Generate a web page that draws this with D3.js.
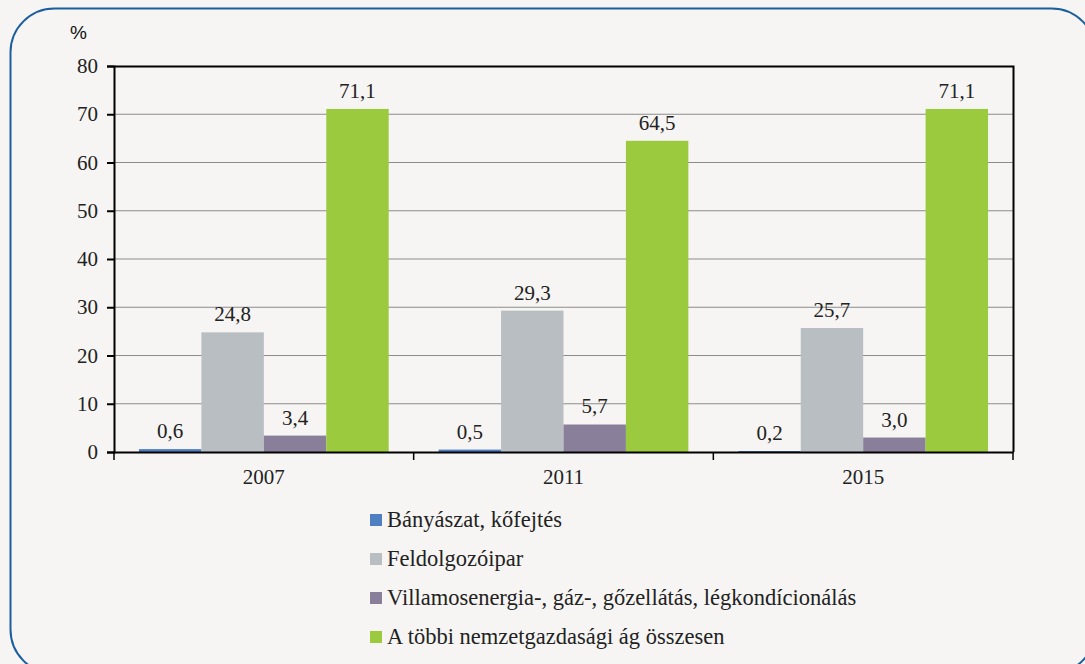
<!DOCTYPE html>
<html>
<head>
<meta charset="utf-8">
<script src="https://cdn.jsdelivr.net/npm/d3@7"></script>
<style>
  body { margin: 0; background: #f6f5f3; }
  svg { display: block; }
</style>
</head>
<body>
<div class="container"></div>
<script>
// data
var years = ["2007", "2011", "2015"];
var series = ["Bányászat, kőfejtés", "Feldolgozóipar",
              "Villamosenergia-, gáz-, gőzellátás, légkondícionálás",
              "A többi nemzetgazdasági ág összesen"];
var colors = ["#4f7fc0", "#b9bec3", "#8a7f9a", "#9bca3e"];
var values = [
  [0.6, 24.8, 3.4, 71.1],
  [0.5, 29.3, 5.7, 64.5],
  [0.2, 25.7, 3.0, 71.1]
];
var yTicks = [0, 10, 20, 30, 40, 50, 60, 70, 80];

var W = 1085, H = 664;
var margin = {top: 66, right: 72, bottom: 212, left: 114},
    width = W - margin.left - margin.right,
    height = H - margin.top - margin.bottom;

var fmt = function(v) { return v.toFixed(1).replace(".", ","); };

// serif text helper
var serif = function(sel, size) {
  sel.style("font-family", function() { return "'Times New Roman'"; })
     .style("font-size", function() { return size + "px"; })
     .attr("fill", "#222");
};

var svg = d3.select("div.container").append("svg")
    .attr("width", W)
    .attr("height", H);

// rounded frame
svg.append("rect")
    .attr("x", 10.5).attr("y", 8.5)
    .attr("width", 1085).attr("height", 665)
    .attr("rx", 44).attr("ry", 44)
    .attr("fill", "#f6f5f3")
    .attr("stroke", "#1c5f9f")
    .attr("stroke-width", 2);

var g = svg.append("g")
    .attr("transform", "translate(" + margin.left + "," + margin.top + ")");

var x0 = d3.scaleBand().domain(years).range([0, width])
    .paddingInner(1 / 6).paddingOuter(1 / 12);
var x1 = d3.scaleBand().domain(d3.range(series.length)).range([0, x0.bandwidth()]);
var y = d3.scaleLinear().domain([0, 80]).range([height, 0]);

// gridlines
g.selectAll("line.grid")
    .data(yTicks.slice(1, -1))
    .enter().append("line")
    .attr("x1", 0).attr("x2", width)
    .attr("y1", function(d) { return y(d); })
    .attr("y2", function(d) { return y(d); })
    .attr("stroke", "#8c8c8c")
    .attr("stroke-width", 1);

// bars
var grp = g.selectAll("g.year")
    .data(values)
    .enter().append("g")
    .attr("transform", function(d, i) { return "translate(" + x0(years[i]) + ",0)"; });

grp.selectAll("rect")
    .data(function(d) { return d; })
    .enter().append("rect")
    .attr("x", function(d, i) { return x1(i); })
    .attr("y", function(d) { return y(d); })
    .attr("width", x1.bandwidth())
    .attr("height", function(d) { return height - y(d); })
    .attr("fill", function(d, i) { return colors[i]; });

grp.selectAll("text")
    .data(function(d) { return d; })
    .enter().append("text")
    .attr("x", function(d, i) { return x1(i) + x1.bandwidth() / 2; })
    .attr("y", function(d) { return y(d) - 11; })
    .attr("text-anchor", "middle")
    .text(fmt)
    .call(serif, 21);

// frame top/right
g.append("path")
    .attr("d", "M0.5,0.5H" + (width + 0.5) + "V" + height)
    .attr("fill", "none").attr("stroke", "#000").attr("stroke-width", 2);

// y axis
var yAxis = g.append("g")
    .call(d3.axisLeft(y).tickValues(yTicks).tickSize(7).tickPadding(9))
    .attr("font-family", null);
yAxis.select(".domain").attr("stroke-width", 2);
yAxis.selectAll(".tick line").attr("stroke-width", 2);
yAxis.selectAll("text").call(serif, 21);

// x axis
var xAxis = g.append("g")
    .attr("transform", "translate(0," + height + ")")
    .call(d3.axisBottom(x0).tickSize(0).tickPadding(17))
    .attr("font-family", null);
xAxis.select(".domain").attr("stroke-width", 2);
xAxis.selectAll("text").call(serif, 21);
// tick marks between groups
g.selectAll("line.xt")
    .data(d3.range(years.length + 1))
    .enter().append("line")
    .attr("x1", function(d) { return d * width / years.length; })
    .attr("x2", function(d) { return d * width / years.length; })
    .attr("y1", height).attr("y2", height + 8)
    .attr("stroke", "#000").attr("stroke-width", 1.5);

// unit label
svg.append("text")
    .attr("x", 70).attr("y", 39)
    .style("font-family", "'Liberation Sans'")
    .style("font-size", "19px")
    .attr("fill", "#111")
    .text("%");

// legend
var leg = svg.selectAll("g.leg")
    .data(series)
    .enter().append("g")
    .attr("transform", function(d, i) { return "translate(370," + (520 + i * 39) + ")"; });
leg.append("rect")
    .attr("x", 0).attr("y", -6)
    .attr("width", 12).attr("height", 12)
    .attr("fill", function(d, i) { return colors[i]; });
leg.append("text")
    .attr("x", 17).attr("y", 7)
    .text(function(d) { return d; })
    .call(serif, 22.5);
</script>
</body>
</html>
